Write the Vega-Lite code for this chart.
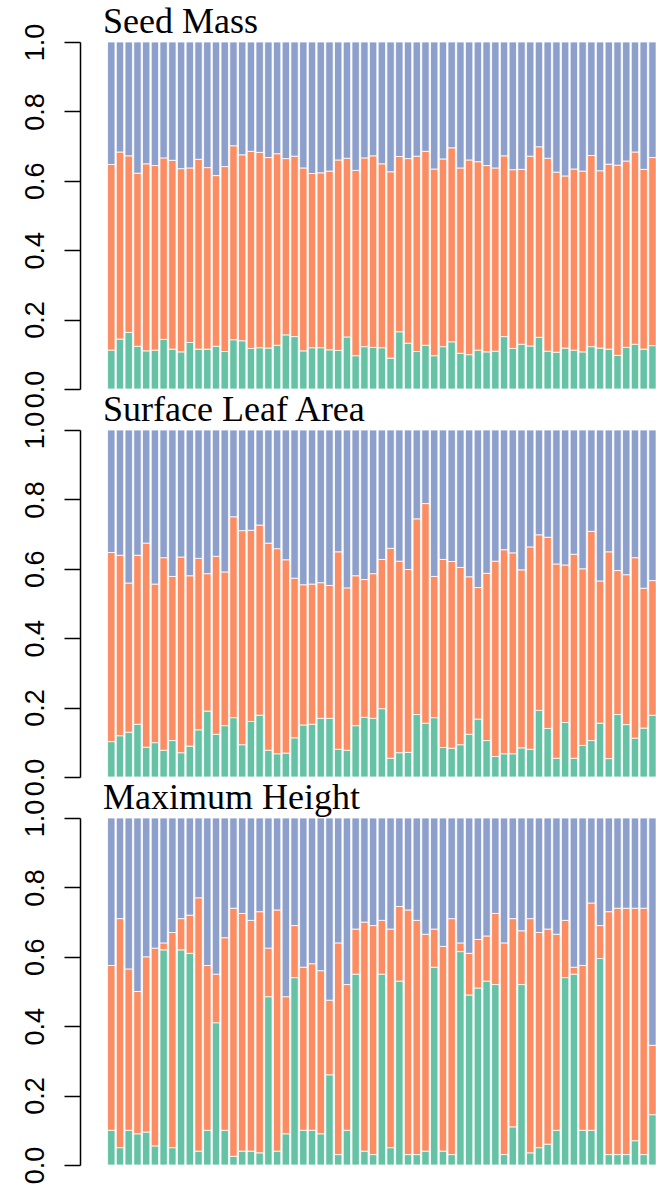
{
  "$schema": "https://vega.github.io/schema/vega-lite/v6.json",
  "background": "white",
  "padding": {"left": 20, "top": 4, "right": 0, "bottom": 0},
  "spacing": 41,
  "bounds": "flush",
  "config": {
    "view": {"stroke": null},
    "axis": {
      "format": ".1f",
      "labelAngle": 270,
      "labelAlign": "center",
      "labelBaseline": "alphabetic",
      "labelFont": "Liberation Sans",
      "labelFontSize": 27,
      "labelColor": "black",
      "labelPadding": 21,
      "labelOverlap": false,
      "labelFlush": false,
      "labelBound": false,
      "tickSize": 16,
      "tickColor": "black",
      "tickWidth": 1.5,
      "domainColor": "black",
      "domainWidth": 1.5,
      "grid": false
    },
    "title": {
      "anchor": "start",
      "frame": "group",
      "font": "Liberation Serif",
      "fontSize": 36,
      "fontWeight": "normal",
      "color": "black",
      "baseline": "alphabetic",
      "offset": -18,
      "dx": 23
    }
  },
  "datasets": {
    "seed": [
      {"i":1,"g":0.112,"o":0.647},{"i":2,"g":0.144,"o":0.683},{"i":3,"g":0.163,"o":0.672},{"i":4,"g":0.123,"o":0.622},{"i":5,"g":0.110,"o":0.649},
      {"i":6,"g":0.112,"o":0.644},{"i":7,"g":0.143,"o":0.666},{"i":8,"g":0.115,"o":0.659},{"i":9,"g":0.107,"o":0.635},{"i":10,"g":0.134,"o":0.637},
      {"i":11,"g":0.115,"o":0.662},{"i":12,"g":0.115,"o":0.638},{"i":13,"g":0.123,"o":0.615},{"i":14,"g":0.108,"o":0.641},{"i":15,"g":0.142,"o":0.701},
      {"i":16,"g":0.139,"o":0.675},{"i":17,"g":0.117,"o":0.685},{"i":18,"g":0.119,"o":0.682},{"i":19,"g":0.118,"o":0.667},{"i":20,"g":0.126,"o":0.678},
      {"i":21,"g":0.156,"o":0.664},{"i":22,"g":0.151,"o":0.671},{"i":23,"g":0.110,"o":0.637},{"i":24,"g":0.119,"o":0.621},{"i":25,"g":0.119,"o":0.623},
      {"i":26,"g":0.113,"o":0.628},{"i":27,"g":0.111,"o":0.660},{"i":28,"g":0.150,"o":0.665},{"i":29,"g":0.096,"o":0.630},{"i":30,"g":0.122,"o":0.666},
      {"i":31,"g":0.120,"o":0.672},{"i":32,"g":0.119,"o":0.649},{"i":33,"g":0.089,"o":0.626},{"i":34,"g":0.165,"o":0.670},{"i":35,"g":0.132,"o":0.664},
      {"i":36,"g":0.108,"o":0.671},{"i":37,"g":0.126,"o":0.685},{"i":38,"g":0.096,"o":0.634},{"i":39,"g":0.122,"o":0.663},{"i":40,"g":0.136,"o":0.695},
      {"i":41,"g":0.103,"o":0.637},{"i":42,"g":0.099,"o":0.660},{"i":43,"g":0.112,"o":0.655},{"i":44,"g":0.107,"o":0.644},{"i":45,"g":0.109,"o":0.637},
      {"i":46,"g":0.151,"o":0.672},{"i":47,"g":0.117,"o":0.632},{"i":48,"g":0.129,"o":0.633},{"i":49,"g":0.124,"o":0.671},{"i":50,"g":0.149,"o":0.698},
      {"i":51,"g":0.109,"o":0.665},{"i":52,"g":0.106,"o":0.625},{"i":53,"g":0.118,"o":0.614},{"i":54,"g":0.112,"o":0.634},{"i":55,"g":0.107,"o":0.628},
      {"i":56,"g":0.122,"o":0.673},{"i":57,"g":0.118,"o":0.629},{"i":58,"g":0.115,"o":0.648},{"i":59,"g":0.097,"o":0.645},{"i":60,"g":0.120,"o":0.657},
      {"i":61,"g":0.129,"o":0.683},{"i":62,"g":0.115,"o":0.633},{"i":63,"g":0.125,"o":0.667}
    ],
    "leaf": [
      {"i":1,"g":0.102,"o":0.647},{"i":2,"g":0.119,"o":0.639},{"i":3,"g":0.129,"o":0.559},{"i":4,"g":0.152,"o":0.639},{"i":5,"g":0.086,"o":0.674},
      {"i":6,"g":0.099,"o":0.556},{"i":7,"g":0.077,"o":0.632},{"i":8,"g":0.105,"o":0.578},{"i":9,"g":0.070,"o":0.634},{"i":10,"g":0.089,"o":0.580},
      {"i":11,"g":0.136,"o":0.630},{"i":12,"g":0.190,"o":0.586},{"i":13,"g":0.123,"o":0.636},{"i":14,"g":0.148,"o":0.591},{"i":15,"g":0.171,"o":0.750},
      {"i":16,"g":0.093,"o":0.710},{"i":17,"g":0.160,"o":0.711},{"i":18,"g":0.178,"o":0.726},{"i":19,"g":0.077,"o":0.674},{"i":20,"g":0.067,"o":0.658},
      {"i":21,"g":0.069,"o":0.626},{"i":22,"g":0.113,"o":0.573},{"i":23,"g":0.150,"o":0.554},{"i":24,"g":0.152,"o":0.556},{"i":25,"g":0.169,"o":0.560},
      {"i":26,"g":0.169,"o":0.552},{"i":27,"g":0.080,"o":0.649},{"i":28,"g":0.077,"o":0.545},{"i":29,"g":0.148,"o":0.580},{"i":30,"g":0.172,"o":0.569},
      {"i":31,"g":0.169,"o":0.586},{"i":32,"g":0.197,"o":0.627},{"i":33,"g":0.054,"o":0.659},{"i":34,"g":0.070,"o":0.622},{"i":35,"g":0.071,"o":0.598},
      {"i":36,"g":0.180,"o":0.744},{"i":37,"g":0.155,"o":0.788},{"i":38,"g":0.171,"o":0.578},{"i":39,"g":0.085,"o":0.627},{"i":40,"g":0.083,"o":0.621},
      {"i":41,"g":0.093,"o":0.604},{"i":42,"g":0.123,"o":0.577},{"i":43,"g":0.167,"o":0.546},{"i":44,"g":0.105,"o":0.587},{"i":45,"g":0.059,"o":0.622},
      {"i":46,"g":0.067,"o":0.655},{"i":47,"g":0.067,"o":0.646},{"i":48,"g":0.084,"o":0.597},{"i":49,"g":0.080,"o":0.663},{"i":50,"g":0.192,"o":0.698},
      {"i":51,"g":0.140,"o":0.691},{"i":52,"g":0.054,"o":0.614},{"i":53,"g":0.157,"o":0.611},{"i":54,"g":0.054,"o":0.642},{"i":55,"g":0.091,"o":0.600},
      {"i":56,"g":0.105,"o":0.708},{"i":57,"g":0.155,"o":0.565},{"i":58,"g":0.053,"o":0.649},{"i":59,"g":0.180,"o":0.595},{"i":60,"g":0.151,"o":0.583},
      {"i":61,"g":0.112,"o":0.632},{"i":62,"g":0.141,"o":0.544},{"i":63,"g":0.178,"o":0.566}
    ],
    "height": [
      {"i":1,"g":0.100,"o":0.575},{"i":2,"g":0.050,"o":0.710},{"i":3,"g":0.100,"o":0.565},{"i":4,"g":0.090,"o":0.500},{"i":5,"g":0.095,"o":0.600},
      {"i":6,"g":0.055,"o":0.625},{"i":7,"g":0.620,"o":0.640},{"i":8,"g":0.050,"o":0.670},{"i":9,"g":0.620,"o":0.710},{"i":10,"g":0.610,"o":0.720},
      {"i":11,"g":0.040,"o":0.770},{"i":12,"g":0.100,"o":0.575},{"i":13,"g":0.410,"o":0.550},{"i":14,"g":0.100,"o":0.655},{"i":15,"g":0.025,"o":0.740},
      {"i":16,"g":0.040,"o":0.725},{"i":17,"g":0.040,"o":0.705},{"i":18,"g":0.035,"o":0.730},{"i":19,"g":0.485,"o":0.625},{"i":20,"g":0.040,"o":0.735},
      {"i":21,"g":0.090,"o":0.485},{"i":22,"g":0.540,"o":0.690},{"i":23,"g":0.100,"o":0.570},{"i":24,"g":0.100,"o":0.580},{"i":25,"g":0.090,"o":0.560},
      {"i":26,"g":0.260,"o":0.475},{"i":27,"g":0.030,"o":0.640},{"i":28,"g":0.100,"o":0.520},{"i":29,"g":0.550,"o":0.680},{"i":30,"g":0.040,"o":0.700},
      {"i":31,"g":0.030,"o":0.690},{"i":32,"g":0.550,"o":0.705},{"i":33,"g":0.050,"o":0.680},{"i":34,"g":0.530,"o":0.745},{"i":35,"g":0.030,"o":0.735},
      {"i":36,"g":0.030,"o":0.705},{"i":37,"g":0.040,"o":0.665},{"i":38,"g":0.570,"o":0.680},{"i":39,"g":0.040,"o":0.630},{"i":40,"g":0.030,"o":0.710},
      {"i":41,"g":0.615,"o":0.640},{"i":42,"g":0.490,"o":0.610},{"i":43,"g":0.510,"o":0.650},{"i":44,"g":0.530,"o":0.660},{"i":45,"g":0.520,"o":0.725},
      {"i":46,"g":0.030,"o":0.640},{"i":47,"g":0.110,"o":0.710},{"i":48,"g":0.520,"o":0.675},{"i":49,"g":0.035,"o":0.710},{"i":50,"g":0.050,"o":0.670},
      {"i":51,"g":0.060,"o":0.680},{"i":52,"g":0.100,"o":0.665},{"i":53,"g":0.540,"o":0.705},{"i":54,"g":0.550,"o":0.570},{"i":55,"g":0.100,"o":0.575},
      {"i":56,"g":0.100,"o":0.755},{"i":57,"g":0.595,"o":0.690},{"i":58,"g":0.030,"o":0.730},{"i":59,"g":0.030,"o":0.740},{"i":60,"g":0.030,"o":0.740},
      {"i":61,"g":0.070,"o":0.740},{"i":62,"g":0.030,"o":0.740},{"i":63,"g":0.145,"o":0.345}
    ]
  },
  "vconcat": [
    {
      "data": {"name": "seed"},
      "title": {"text": "Seed Mass"},
      "width": 577,
      "height": 347,
      "encoding": {
        "x": {"field": "i", "type": "quantitative", "scale": {"domain": [-2.01, 62.95], "nice": false, "zero": false}, "axis": null}
      },
      "layer": [
        {"mark": {"type": "bar", "width": 7.4, "clip": true, "color": "#66C2A5", "stroke": "white", "strokeWidth": 0.8},
         "encoding": {"y": {"field": "g", "type": "quantitative", "scale": {"domain": [0, 1], "nice": false}, "axis": {"title": null, "values": [0, 0.2, 0.4, 0.6, 0.8, 1]}}, "y2": {"datum": 0}}},
        {"mark": {"type": "bar", "width": 7.4, "clip": true, "color": "#FC8D62", "stroke": "white", "strokeWidth": 0.8},
         "encoding": {"y": {"field": "o", "type": "quantitative", "axis": {"title": null, "values": [0, 0.2, 0.4, 0.6, 0.8, 1]}}, "y2": {"field": "g"}}},
        {"mark": {"type": "bar", "width": 7.4, "clip": true, "color": "#8DA0CB", "stroke": "white", "strokeWidth": 0.8},
         "encoding": {"y": {"field": "o", "type": "quantitative", "axis": {"title": null, "values": [0, 0.2, 0.4, 0.6, 0.8, 1]}}, "y2": {"datum": 1}}}
      ]
    },
    {
      "data": {"name": "leaf"},
      "title": {"text": "Surface Leaf Area"},
      "width": 577,
      "height": 347,
      "encoding": {
        "x": {"field": "i", "type": "quantitative", "scale": {"domain": [-2.01, 62.95], "nice": false, "zero": false}, "axis": null}
      },
      "layer": [
        {"mark": {"type": "bar", "width": 7.4, "clip": true, "color": "#66C2A5", "stroke": "white", "strokeWidth": 0.8},
         "encoding": {"y": {"field": "g", "type": "quantitative", "scale": {"domain": [0, 1], "nice": false}, "axis": {"title": null, "values": [0, 0.2, 0.4, 0.6, 0.8, 1]}}, "y2": {"datum": 0}}},
        {"mark": {"type": "bar", "width": 7.4, "clip": true, "color": "#FC8D62", "stroke": "white", "strokeWidth": 0.8},
         "encoding": {"y": {"field": "o", "type": "quantitative", "axis": {"title": null, "values": [0, 0.2, 0.4, 0.6, 0.8, 1]}}, "y2": {"field": "g"}}},
        {"mark": {"type": "bar", "width": 7.4, "clip": true, "color": "#8DA0CB", "stroke": "white", "strokeWidth": 0.8},
         "encoding": {"y": {"field": "o", "type": "quantitative", "axis": {"title": null, "values": [0, 0.2, 0.4, 0.6, 0.8, 1]}}, "y2": {"datum": 1}}}
      ]
    },
    {
      "data": {"name": "height"},
      "title": {"text": "Maximum Height"},
      "width": 577,
      "height": 347,
      "encoding": {
        "x": {"field": "i", "type": "quantitative", "scale": {"domain": [-2.01, 62.95], "nice": false, "zero": false}, "axis": null}
      },
      "layer": [
        {"mark": {"type": "bar", "width": 7.4, "clip": true, "color": "#66C2A5", "stroke": "white", "strokeWidth": 0.8},
         "encoding": {"y": {"field": "g", "type": "quantitative", "scale": {"domain": [0, 1], "nice": false}, "axis": {"title": null, "values": [0, 0.2, 0.4, 0.6, 0.8, 1]}}, "y2": {"datum": 0}}},
        {"mark": {"type": "bar", "width": 7.4, "clip": true, "color": "#FC8D62", "stroke": "white", "strokeWidth": 0.8},
         "encoding": {"y": {"field": "o", "type": "quantitative", "axis": {"title": null, "values": [0, 0.2, 0.4, 0.6, 0.8, 1]}}, "y2": {"field": "g"}}},
        {"mark": {"type": "bar", "width": 7.4, "clip": true, "color": "#8DA0CB", "stroke": "white", "strokeWidth": 0.8},
         "encoding": {"y": {"field": "o", "type": "quantitative", "axis": {"title": null, "values": [0, 0.2, 0.4, 0.6, 0.8, 1]}}, "y2": {"datum": 1}}}
      ]
    }
  ]
}
